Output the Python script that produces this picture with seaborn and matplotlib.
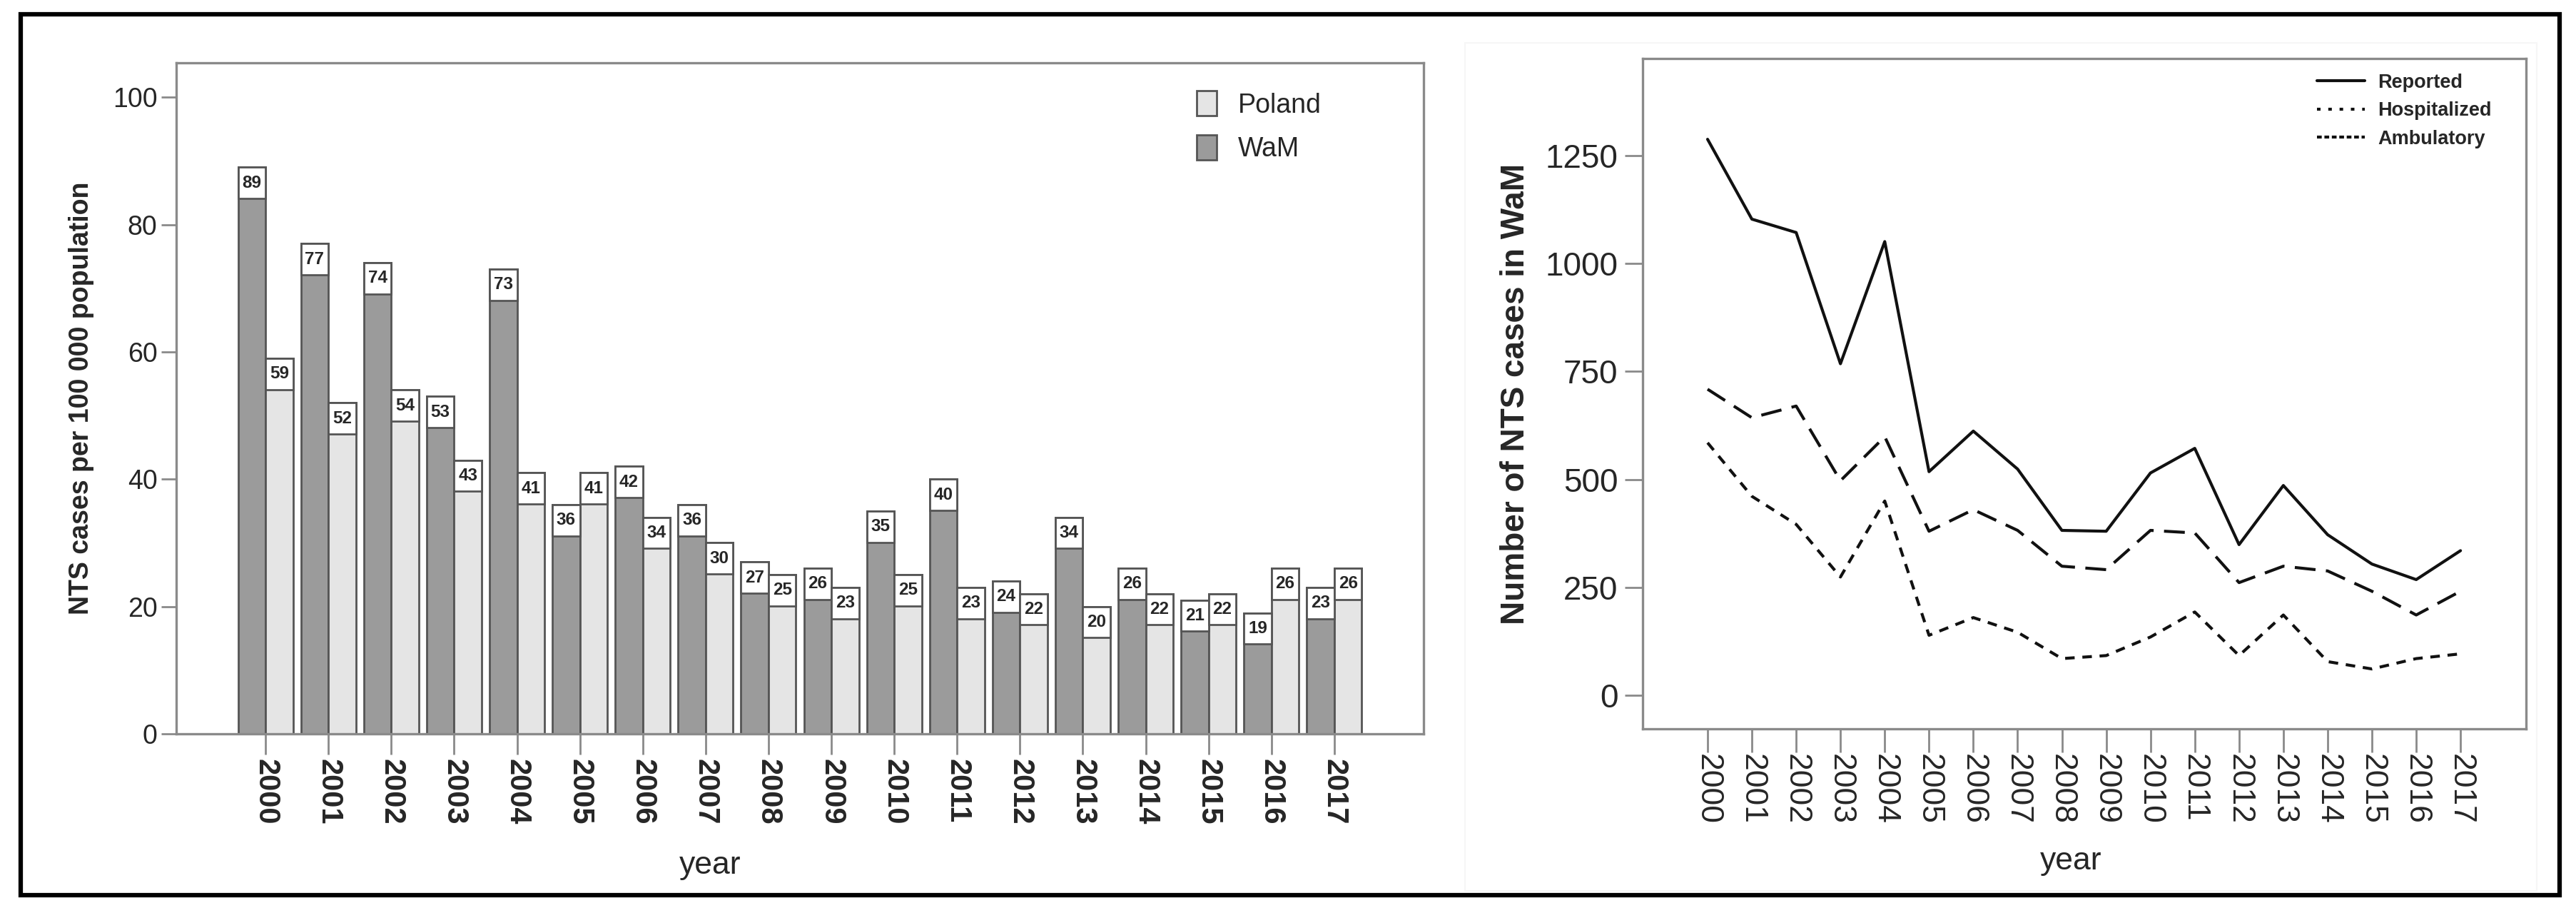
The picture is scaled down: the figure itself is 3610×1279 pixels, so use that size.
import matplotlib
matplotlib.use("Agg")
import matplotlib.pyplot as plt
import numpy as np
import pandas as pd
import seaborn as sns
from matplotlib import font_manager
from matplotlib.lines import Line2D
from matplotlib.patches import Patch, Rectangle

years = [2000, 2001, 2002, 2003, 2004, 2005, 2006, 2007, 2008,
         2009, 2010, 2011, 2012, 2013, 2014, 2015, 2016, 2017]

# incidence per 100 000 population
wam_rate = [89, 77, 74, 53, 73, 36, 42, 36, 27, 26, 35, 40, 24, 34, 26, 21, 19, 23]
poland_rate = [59, 52, 54, 43, 41, 41, 34, 30, 25, 23, 25, 23, 22, 20, 22, 22, 26, 26]

# number of NTS cases in WaM
reported = [1288, 1103, 1072, 768, 1051, 518, 612, 524, 382, 380, 515, 572, 349, 486, 372, 304, 268, 335]
hospitalized = [709, 643, 670, 497, 599, 380, 430, 382, 299, 291, 382, 376, 261, 299, 288, 241, 186, 241]
ambulatory = [585, 461, 396, 274, 450, 139, 180, 146, 85, 92, 135, 193, 92, 186, 78, 61, 85, 96]

W, H = 3610, 1279
DPI = 100

sns.set_style("white")
plt.rcParams["font.family"] = ["Liberation Sans", "DejaVu Sans"]


def has_font(name):
    try:
        font_manager.findfont(font_manager.FontProperties(family=name), fallback_to_default=False)
        return True
    except ValueError:
        return False


HAS_NARROW = has_font("Liberation Sans Narrow")
NARROW = ["Liberation Sans Narrow", "Liberation Sans"] if HAS_NARROW else ["Liberation Sans"]

SPINE = "#8a8a8a"
EDGE = "#555555"


def style_axes(ax, tick_len_x, tick_len_y):
    for sp in ax.spines.values():
        sp.set_visible(True)
        sp.set_color(SPINE)
        sp.set_linewidth(2.4)
    ax.tick_params(axis="x", length=tick_len_x, width=2, color=SPINE, direction="out", bottom=True)
    ax.tick_params(axis="y", length=tick_len_y, width=2, color=SPINE, direction="out", left=True)


def plot_rates(ax):
    df = pd.DataFrame({
        "year": [str(y) for y in years] * 2,
        "rate": wam_rate + poland_rate,
        "region": ["WaM"] * len(years) + ["Poland"] * len(years),
    })
    palette = {"WaM": "#9b9b9b", "Poland": "#e5e5e5"}
    sns.barplot(data=df, x="year", y="rate", hue="region", hue_order=["WaM", "Poland"],
                palette=palette, saturation=1, width=0.875, edgecolor=EDGE,
                linewidth=2, legend=False, ax=ax)

    box_h = 4.9
    for container in ax.containers:
        for bar in container:
            x, w, h = bar.get_x(), bar.get_width(), bar.get_height()
            ax.add_patch(Rectangle((x, h - box_h), w, box_h, facecolor="white",
                                   edgecolor=EDGE, linewidth=2, zorder=3))
            ax.text(x + w / 2, h - box_h / 2, f"{h:.0f}", ha="center", va="center",
                    fontsize=19 if HAS_NARROW else 17.5, fontweight="bold", zorder=4,
                    family=NARROW)

    ax.set_xlim(-1.42, 18.42)
    ax.set_ylim(0, 105.4)
    ax.set_yticks([0, 20, 40, 60, 80, 100])
    style_axes(ax, 21, 15)
    ax.tick_params(axis="y", labelsize=27, pad=4)
    ax.tick_params(axis="x", labelsize=30, pad=4)
    for lbl in ax.get_xticklabels():
        lbl.set_rotation(-90)
        lbl.set_fontweight("bold")

    ax.set_ylabel("NTS cases per 100 000 population", fontsize=27, fontweight="bold")
    ax.yaxis.set_label_coords(-0.066, 0.5)
    ax.set_xlabel("year", fontsize=32)
    ax.xaxis.set_label_coords(0.428, -0.174)

    handles = [Patch(facecolor=palette["Poland"], edgecolor=EDGE, linewidth=2, label="Poland"),
               Patch(facecolor=palette["WaM"], edgecolor=EDGE, linewidth=2, label="WaM")]
    ax.legend(handles=handles, loc="upper left", bbox_to_anchor=(0.818, 0.958), frameon=False,
              fontsize=27, handlelength=0.75, handleheight=1.05, handletextpad=0.8,
              labelspacing=0.62, borderpad=0, borderaxespad=0)


def plot_cases(ax):
    df = pd.DataFrame({
        "year": years * 3,
        "cases": reported + hospitalized + ambulatory,
        "series": ["Reported"] * len(years) + ["Hospitalized"] * len(years) + ["Ambulatory"] * len(years),
    })
    dashes = {"Reported": "", "Hospitalized": (7, 3.5), "Ambulatory": (3.2, 2.6)}
    sns.lineplot(data=df, x="year", y="cases", style="series", dashes=dashes,
                 color="#111111", linewidth=3, legend=False, ax=ax)

    ax.set_xlim(years[0] - 1.466, years[-1] + 1.48)
    ax.set_ylim(-77.7, 1475)
    ax.set_xticks(years)
    ax.set_xticklabels([str(y) for y in years], rotation=-90)
    ax.set_yticks([0, 250, 500, 750, 1000, 1250])
    style_axes(ax, 24, 18)
    ax.tick_params(axis="y", labelsize=33, pad=7)
    ax.tick_params(axis="x", labelsize=32, pad=1)

    ax.set_ylabel("Number of NTS cases in WaM", fontsize=38 if HAS_NARROW else 33,
                  fontweight="bold", family=NARROW)
    ax.yaxis.set_label_coords(-0.126, 0.5)
    ax.set_xlabel("year", fontsize=32)
    ax.xaxis.set_label_coords(0.485, -0.176)

    handles = [Line2D([], [], color="#111111", lw=3, label="Reported"),
               Line2D([], [], color="#111111", lw=3, dashes=(1.2, 2.6), label="Hospitalized"),
               Line2D([], [], color="#111111", lw=3, dashes=(1.6, 0.9), label="Ambulatory")]
    ax.legend(handles=handles, loc="upper left", bbox_to_anchor=(0.763, 0.978), frameon=False,
              prop={"size": 21 if HAS_NARROW else 19.5, "weight": "bold", "family": NARROW},
              handlelength=2.5, handletextpad=0.65,
              labelspacing=0.5, borderpad=0, borderaxespad=0)


fig = plt.figure(figsize=(W / DPI, H / DPI), dpi=DPI)
ax1 = fig.add_axes([247 / W, 1 - 1028 / H, (1995 - 247) / W, (1028 - 88) / H])
ax2 = fig.add_axes([2302 / W, 1 - 1021 / H, (3540 - 2302) / W, (1021 - 82) / H])

plot_rates(ax1)
plot_cases(ax2)

# faint panel box of the right figure and outer frame
fig.add_artist(Rectangle((2053 / W, 1 - 1248 / H), (3555 - 2053) / W, (1248 - 60) / H,
                         transform=fig.transFigure, fill=False, edgecolor="#f6f6f6", linewidth=1.5))
fig.add_artist(Rectangle((29 / W, 1 - 1254 / H), (3587 - 29) / W, (1254 - 20) / H,
                         transform=fig.transFigure, fill=False, edgecolor="black", linewidth=4.5))

fig.savefig("out.png", dpi=DPI, facecolor="white")
